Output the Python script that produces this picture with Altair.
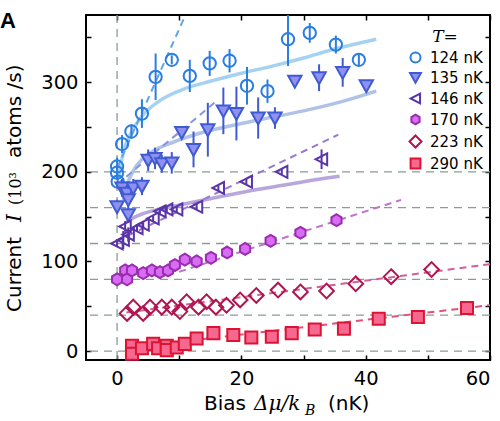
import altair as alt
import pandas as pd

# Temperatures (legend entries) and the baseline each curve is shifted to
SERIES = ["124 nK", "135 nK", "146 nK", "170 nK", "223 nK", "290 nK"]
BASELINES = [0, 40, 80, 120, 160, 200]

# Measured current vs bias, already shifted by the series baseline (10^3 atoms/s)
X124 = [0.0, 0.0, 0.1, 0.8, 2.3, 4.0, 6.2, 8.8, 11.7, 14.9, 18.1, 20.9, 24.2, 27.5, 31.0, 35.2, 38.9]
Y124 = [206, 199, 189, 231, 245, 265, 306, 325, 307, 321, 324, 296, 290, 348, 355, 342, 325]
E124 = [10, 8, 6, 10, 8, 16, 26, 5, 18, 14, 13, 21, 13, 30, 11, 10, 6]

X135 = [0.0, 0.8, 1.6, 1.8, 1.8, 2.6, 4.0, 5.0, 6.1, 7.2, 8.8, 10.4, 12.3, 14.6, 17.1, 19.2, 22.7, 25.4, 28.6, 32.5, 36.3, 40.1]
Y135 = [161, 182, 176, 169, 152, 182, 184, 213, 215, 209, 210, 244, 225, 247, 268, 265, 260, 260, 301, 305, 311, 296]
E135 = [8, 10, 10, 10, 8, 10, 10, 12, 12, 10, 12, 5, 20, 30, 26, 30, 23, 12, 3, 15, 16, 3]

X146 = [0.0, 1.0, 1.3, 1.8, 3.2, 4.2, 5.8, 6.9, 8.0, 9.6, 12.8, 16.3, 20.8, 26.5, 32.9]
Y146 = [120, 124, 139, 130, 137, 141, 148, 156, 158, 158, 161, 182, 189, 200, 214]
E146 = [4, 10, 6, 8, 4, 4, 3, 3, 3, 3, 3, 3, 3, 3, 11]

X170 = [0.0, 1.3, 1.6, 2.4, 4.2, 5.6, 6.9, 8.2, 9.3, 10.9, 12.8, 15.1, 17.7, 20.6, 24.7, 29.5, 35.3]
Y170 = [80, 90, 80, 90, 87, 90, 88, 90, 96, 102, 100, 104, 110, 114, 123, 132, 146]
E170 = [0] * len(X170)

X223 = [1.6, 2.6, 4.2, 5.3, 7.2, 8.8, 10.1, 11.2, 13.1, 14.4, 15.9, 17.6, 19.8, 22.4, 25.9, 29.5, 33.7, 38.4, 44.1, 50.6]
Y223 = [42, 49, 42, 49, 49, 49, 44, 55, 49, 55, 49, 51, 57, 62, 68, 66, 67, 75, 83, 91]
E223 = [0] * len(X223)

X290 = [2.4, 2.4, 4.0, 5.8, 6.6, 8.0, 8.0, 9.6, 10.9, 12.8, 15.5, 18.7, 21.6, 24.9, 28.1, 31.8, 36.5, 42.1, 48.4, 56.3]
Y290 = [6, -3, 3, 8, 3, 6, 1, 4, 8, 14, 20, 18, 15, 16, 20, 24, 25, 36, 38, 48]
E290 = [0] * len(X290)

# Linear fits (dashed): end points
FIT_X = {
    "124 nK": [0.0, 11.0], "135 nK": [0.0, 16.0], "146 nK": [0.0, 35.6],
    "170 nK": [10.0, 45.7], "223 nK": [1.5, 60.0], "290 nK": [2.0, 60.0],
}
FIT_Y = {
    "124 nK": [204, 375], "135 nK": [186, 279], "146 nK": [123, 241.5],
    "170 nK": [88.5, 168.7], "223 nK": [43, 97], "290 nK": [3.6, 51.2],
}

# Model curves (solid) for the three coldest clouds
THEORY_X = {
    "124 nK": [0.3, 1.0, 2.0, 4.0, 7.0, 11.0, 15.0, 20.0, 25.0, 30.0, 35.0, 41.7],
    "135 nK": [1.0, 1.6, 2.5, 4.0, 6.0, 9.0, 13.3, 20.0, 25.0, 30.0, 36.0, 41.7],
    "146 nK": [1.3, 3.0, 6.0, 10.0, 15.0, 20.0, 25.0, 30.0, 35.8],
}
THEORY_Y = {
    "124 nK": [195, 222, 240, 262, 280, 293, 301, 310, 318, 327, 337, 348],
    "135 nK": [168, 185, 200, 214, 224, 233, 243, 254, 261, 268, 278, 290],
    "146 nK": [143, 150, 157, 163, 170, 177, 183, 189, 195],
}

MEASURED = {
    "124 nK": (X124, Y124, E124), "135 nK": (X135, Y135, E135),
    "146 nK": (X146, Y146, E146), "170 nK": (X170, Y170, E170),
    "223 nK": (X223, Y223, E223), "290 nK": (X290, Y290, E290),
}

# Marker outlines as unit paths (one common symbol size scales them all)
CIRCLE = "M-0.88,0A0.88,0.88 0 1,0 0.88,0A0.88,0.88 0 1,0 -0.88,0Z"
TRI_DOWN = "M-0.95,-0.78L0.95,-0.78L0,0.92Z"
TRI_LEFT = "M0.8,-0.85L0.8,0.85L-0.85,0Z"
HEXAGON = "M0,-0.85L0.72,-0.42L0.72,0.42L0,0.85L-0.72,0.42L-0.72,-0.42Z"
DIAMOND = "M0,-1.05L1.05,0L0,1.05L-1.05,0Z"
SQUARE = "M-0.86,-0.86L0.86,-0.86L0.86,0.86L-0.86,0.86Z"
SHAPES = [CIRCLE, TRI_DOWN, TRI_LEFT, HEXAGON, DIAMOND, SQUARE]

STROKES = ["#2b7de0", "#3f5bd2", "#5a34a8", "#9a2cae", "#b0154f", "#dc1434"]
FILLS = ["transparent", "#9090f2", "transparent", "#d86cf4", "transparent", "#f76890"]
FIT_COLORS = ["#62a6e6", "#8496dc", "#9a78d2", "#c272cc", "#d0609c", "#e2507a"]
THEORY_COLORS = {"124 nK": "#a6d2f2", "135 nK": "#b0c2e8", "146 nK": "#b9a6dc"}
GRID = "#8c9c94"

xscale = alt.Scale(domain=[-5, 60], nice=False, zero=False)
yscale = alt.Scale(domain=[-10, 375], nice=False, zero=False)


def xq():
    return alt.X("x:Q", scale=xscale, axis=None)


def yq():
    return alt.Y("y:Q", scale=yscale, axis=None)


rows = []
for name in SERIES:
    xs, ys, es = MEASURED[name]
    for x, y, e in zip(xs, ys, es):
        rows.append({"T": name, "x": x, "y": y, "lo": y - e, "hi": y + e, "e": e})
pts = pd.DataFrame(rows)

layers = []

# baselines and zero-bias marker
layers.append(
    alt.Chart(pd.DataFrame({"y": BASELINES}))
    .mark_rule(color=GRID, strokeDash=[8, 6], strokeWidth=1.3)
    .encode(y=yq())
)
layers.append(
    alt.Chart(pd.DataFrame({"x": [0]}))
    .mark_rule(color=GRID, strokeDash=[8, 6], strokeWidth=1.3)
    .encode(x=xq())
)

# model curves
for name in ["146 nK", "135 nK", "124 nK"]:
    df = pd.DataFrame({"x": THEORY_X[name], "y": THEORY_Y[name]})
    layers.append(
        alt.Chart(df)
        .mark_line(color=THEORY_COLORS[name], strokeWidth=3.5, interpolate="monotone")
        .encode(x=xq(), y=yq())
    )

# linear fits
for name, col in zip(SERIES, FIT_COLORS):
    df = pd.DataFrame({"x": FIT_X[name], "y": FIT_Y[name]})
    layers.append(
        alt.Chart(df)
        .mark_line(color=col, strokeWidth=2, strokeDash=[7, 5], clip=True)
        .encode(x=xq(), y=yq())
    )

# error bars
for name, col in zip(SERIES, STROKES):
    df = pts[(pts["T"] == name) & (pts["e"] > 0)]
    if len(df):
        layers.append(
            alt.Chart(df)
            .mark_rule(color=col, strokeWidth=2, clip=True)
            .encode(x=xq(), y=alt.Y("lo:Q", scale=yscale, axis=None), y2="hi:Q")
        )

legend = alt.Legend(
    orient="none", legendX=322, legendY=14, title="T=",
    titleFont="DejaVu Serif", titleFontStyle="italic", titleFontWeight="normal",
    titleFontSize=17, titleAnchor="middle", titlePadding=4,
    labelFont="DejaVu Sans", labelFontSize=15, labelColor="black",
    symbolSize=130, symbolStrokeWidth=2, rowPadding=2, labelOffset=7,
)

points = (
    alt.Chart(pts)
    .mark_point(filled=False, strokeWidth=2, opacity=1, size=196)
    .encode(
        x=alt.X("x:Q", scale=xscale, axis=alt.Axis(
            values=[0, 20, 40, 60], title=None, ticks=False, domain=False,
            grid=False, labelPadding=9)),
        y=alt.Y("y:Q", scale=yscale, axis=alt.Axis(
            values=[0, 100, 200, 300], title=None, ticks=False,
            domain=False, grid=False, labelPadding=8)),
        shape=alt.Shape("T:N", scale=alt.Scale(domain=SERIES, range=SHAPES), legend=legend),
        fill=alt.Fill("T:N", scale=alt.Scale(domain=SERIES, range=FILLS), legend=legend),
        stroke=alt.Stroke("T:N", scale=alt.Scale(domain=SERIES, range=STROKES), legend=legend),
    )
)
layers.append(points)


def tick_axes(xorient, yorient):
    """Invisible layer carrying inward-pointing tick marks on two sides."""
    return alt.Chart(pts).mark_point(opacity=0).encode(
        x=alt.X("x:Q", scale=xscale, axis=alt.Axis(
            orient=xorient, values=list(range(0, 61, 10)), labels=False, domain=False,
            grid=False, tickSize=5, tickWidth=1.5, tickColor="black", offset=-5, title=None)),
        y=alt.Y("y:Q", scale=yscale, axis=alt.Axis(
            orient=yorient, values=list(range(0, 351, 50)), labels=False, domain=False,
            grid=False, tickSize=5, tickWidth=1.5, tickColor="black", offset=-5, title=None)),
    )


layers.append(tick_axes("bottom", "left"))
layers.append(tick_axes("top", "right"))

# Axis titles, set piecewise so the math parts can be italic serif
SANS, SERIF = "DejaVu Sans", "DejaVu Serif"


def label(text, x, y, size=20, font=SANS, style="normal", weight="normal", angle=0):
    return (
        alt.Chart(pd.DataFrame({"t": [text]}))
        .mark_text(font=font, fontSize=size, fontStyle=style, fontWeight=weight,
                   align="left", baseline="alphabetic", angle=angle, color="black")
        .encode(x=alt.value(x), y=alt.value(y), text="t:N")
    )


layers += [
    label("Bias", 118, 395),
    label("Δμ/k", 168, 395, font=SERIF, style="italic"),
    label("B", 219, 400, size=14, font=SERIF, style="italic"),
    label("(nK)", 242, 395),
    label("Current", -65, 297, angle=270),
    label("I", -65, 207, font=SERIF, style="italic", angle=270),
    label("(10³", -65, 190, size=16, font=SERIF, angle=270),
    label("atoms /s)", -65, 143, angle=270),
    label("A", -86, 13, size=22, font="Liberation Sans", weight="bold"),
]

chart = (
    alt.layer(*layers)
    .resolve_axis(x="independent", y="independent")
    .properties(
        width=404, height=345,
        autosize=alt.AutoSizeParams(type="none"),
        padding={"left": 86, "top": 15, "right": 10, "bottom": 61},
    )
    .configure_view(stroke="black", strokeWidth=2)
    .configure_axis(labelFont=SANS, labelFontSize=19.5, labelColor="black")
)

chart.save("out.html", embed_options={"renderer": "svg", "actions": False})
